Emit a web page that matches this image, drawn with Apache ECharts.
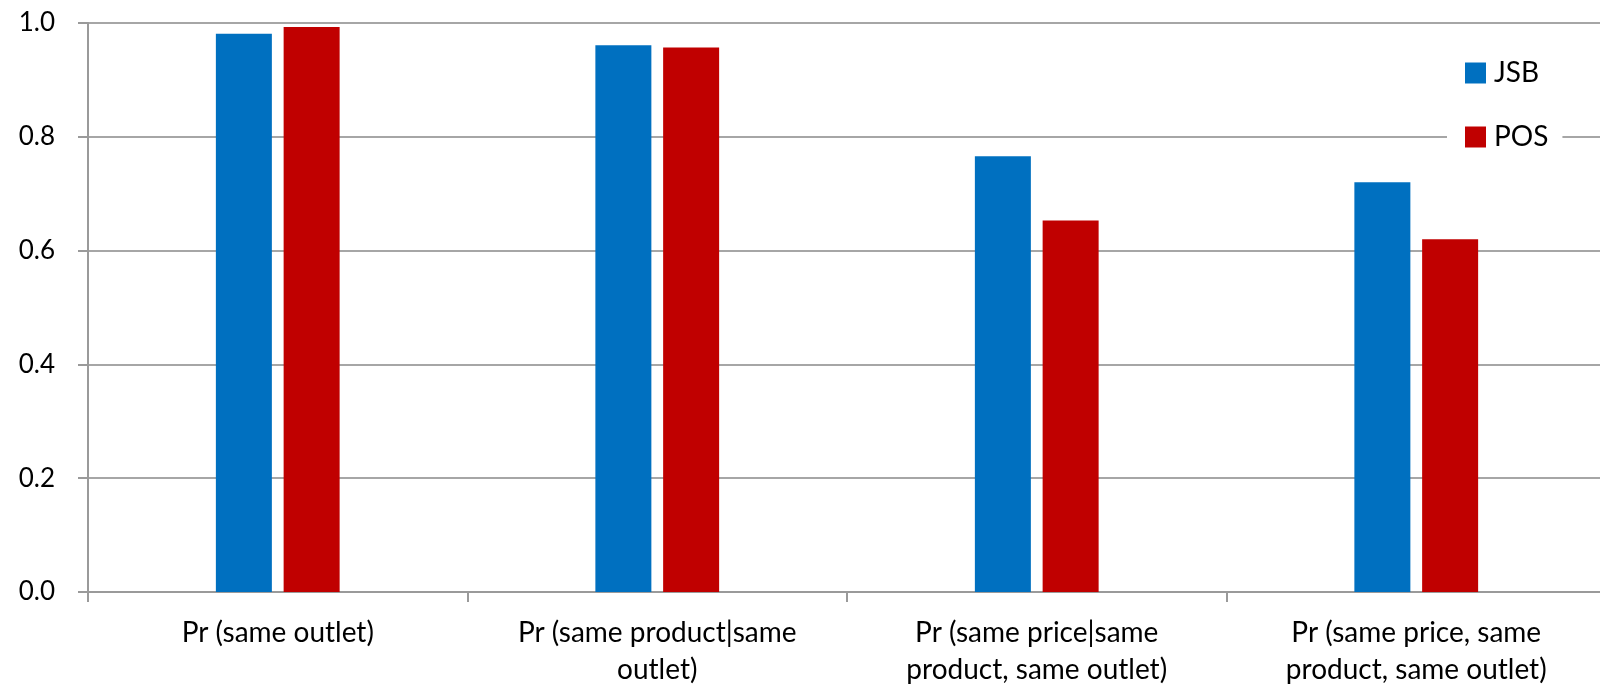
<!DOCTYPE html>
<html>
<head>
<meta charset="utf-8">
<script src="https://cdn.jsdelivr.net/npm/echarts@6/dist/echarts.min.js"></script>
<style>
html,body{margin:0;padding:0;background:#fff;}
#c{width:1600px;height:686px;}
</style>
</head>
<body>
<div id="c"></div>
<script>
const categories = [
  "Pr (same outlet)",
  "Pr (same product|same\noutlet)",
  "Pr (same price|same\nproduct, same outlet)",
  "Pr (same price, same\nproduct, same outlet)"
];
const seriesNames = ["JSB", "POS"];
const jsbValues = [0.981, 0.961, 0.766, 0.720];
const posValues = [0.993, 0.957, 0.653, 0.620];
const yTicks = [0, 0.2, 0.4, 0.6, 0.8, 1.0];

const FONT = "Lato";
const chart = echarts.init(document.getElementById('c'), null, {renderer: 'canvas'});
chart.setOption({
  animation: false,
  backgroundColor: '#fff',
  grid: {left: 88, right: -6, top: 23, bottom: 94, containLabel: false, outerBoundsMode: 'none'},
  legend: {
    orient: 'vertical',
    left: 1447, top: 47,
    padding: [12, 14, 12, 18],
    backgroundColor: '#fff',
    itemWidth: 21, itemHeight: 21, itemGap: 36,
    icon: 'rect',
    data: seriesNames,
    textStyle: {fontFamily: FONT, fontSize: 28, color: '#000', padding: [0, 0, 0, 3]}
  },
  xAxis: {
    type: 'category',
    data: categories,
    axisLine: {lineStyle: {color: '#9a9a9a', width: 2}},
    axisTick: {show: true, length: 10, interval: 0, alignWithLabel: false, lineStyle: {color: '#9a9a9a', width: 2}},
    axisLabel: {interval: 0, margin: 22, fontFamily: FONT, fontSize: 28, color: '#000', lineHeight: 37}
  },
  yAxis: {
    type: 'value',
    min: 0, max: 1, interval: 0.2,
    axisLine: {show: true, lineStyle: {color: '#9a9a9a', width: 2}},
    axisTick: {show: true, length: 10, lineStyle: {color: '#9a9a9a', width: 2}},
    splitLine: {lineStyle: {color: '#a6a6a6', width: 2}},
    axisLabel: {margin: 33, fontFamily: FONT, fontSize: 26, color: '#000',
      formatter: v => v.toFixed(1)}
  },
  series: [
    {name: seriesNames[0], type: 'bar', data: jsbValues, barWidth: 56, barGap: '21%', itemStyle: {color: '#0070C0'}},
    {name: seriesNames[1], type: 'bar', data: posValues, barWidth: 56, barGap: '21%', itemStyle: {color: '#C00000'}}
  ]
});
</script>
</body>
</html>
